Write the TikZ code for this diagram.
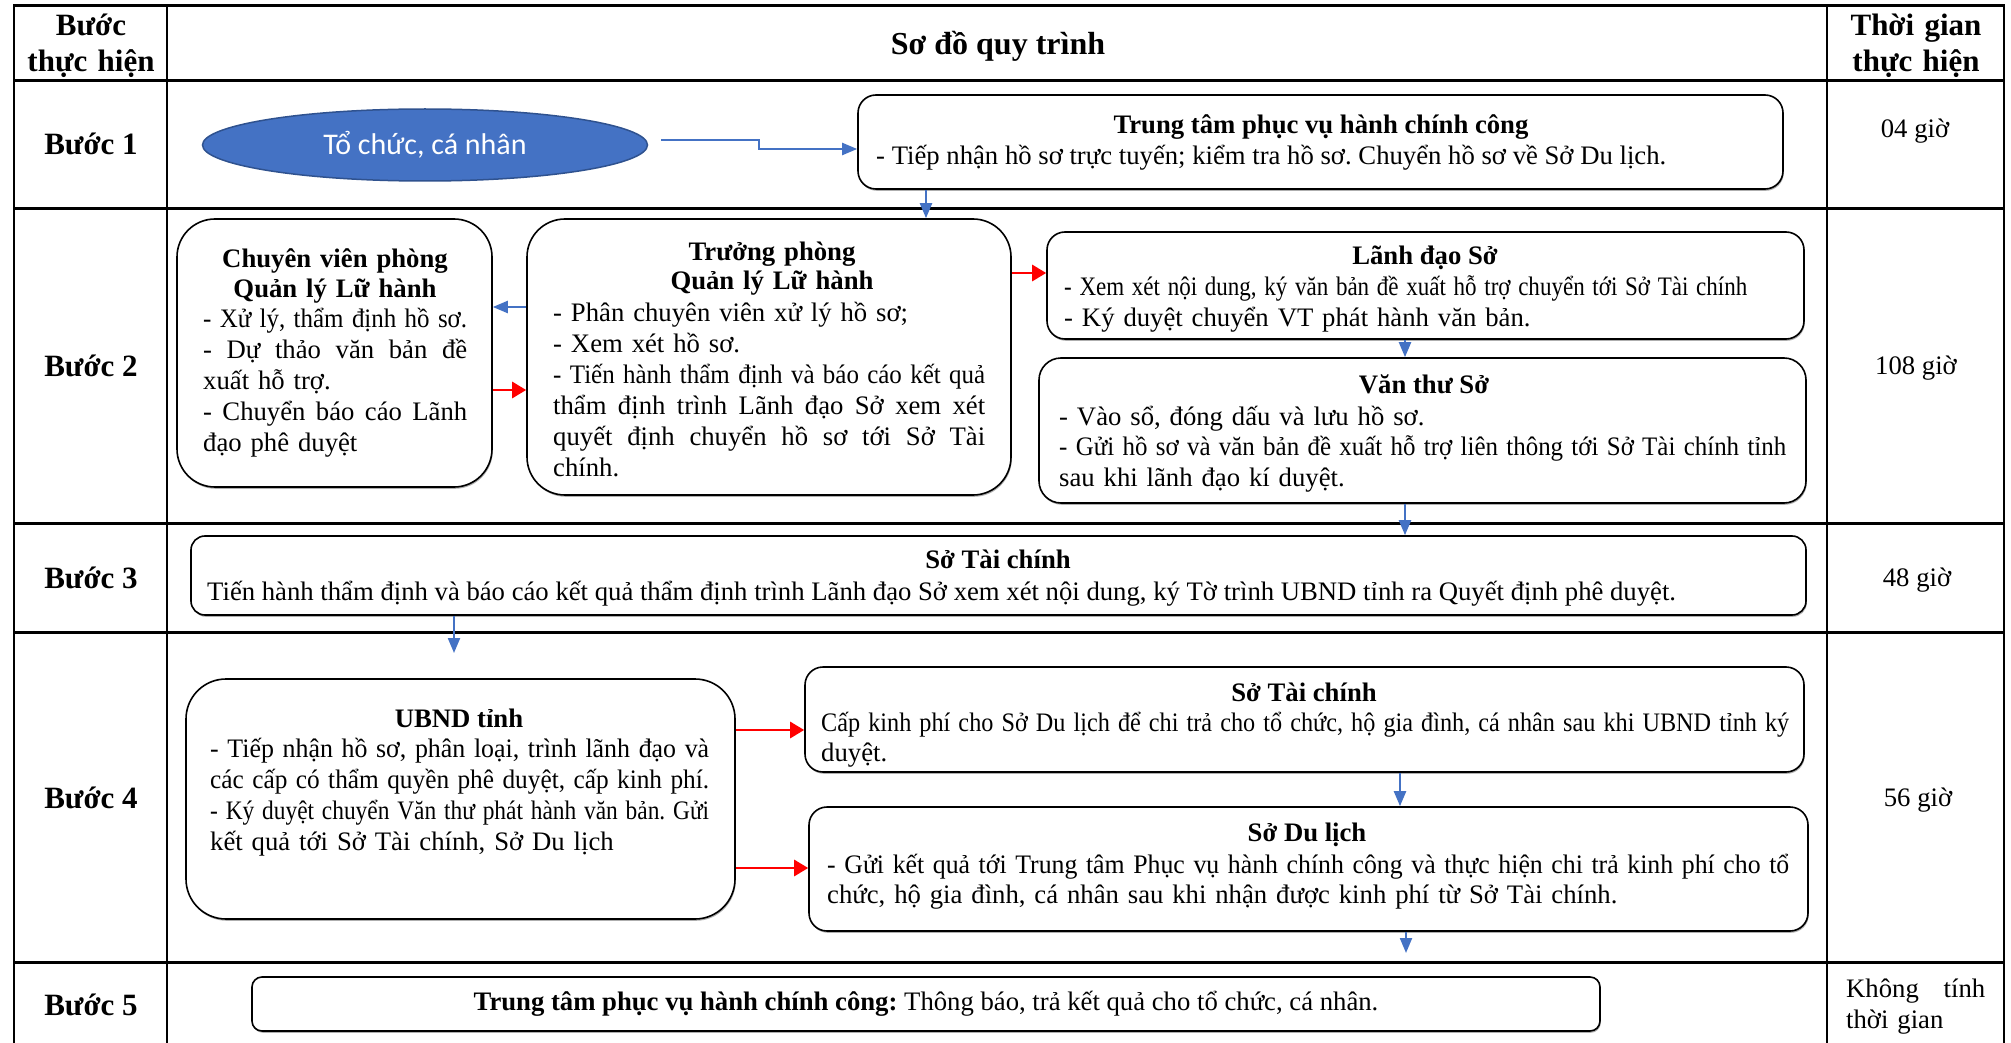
\documentclass[tikz,border=0pt]{standalone}
\usepackage{fontspec}
\setmainfont{Liberation Serif}
\newfontfamily\calibri{Carlito}
\usetikzlibrary{arrows.meta,shadows,shapes.geometric}
\definecolor{myblue}{HTML}{4472C4}
\definecolor{ellborder}{HTML}{2F528F}
\definecolor{myred}{HTML}{FF0000}
\frenchspacing
\newcommand{\bodyfont}{\fontsize{26.7}{31}\selectfont}
\newcommand{\headfont}{\fontsize{31}{36}\selectfont\bfseries}
\newsavebox\jlbox
\newcommand{\jl}[1]{\sbox\jlbox{#1}%
  \ifdim\wd\jlbox>\linewidth
    \resizebox{\linewidth}{\height}{\usebox\jlbox}%
  \else
    \makebox[\linewidth][s]{\spaceskip=0.25em plus 8em minus 0.05em\relax #1}%
  \fi\par}
\newcommand{\nl}[1]{\mbox{#1}\par}
\newcommand{\sq}[2]{\resizebox{#1}{\height}{#2}\par}
\begin{document}
\begin{tikzpicture}[x=1pt,y=-1pt,
  hline/.style={line width=3pt},
  vline/.style={line width=1.8pt},
  pbox/.style={draw, line width=1.6pt, fill=white, inner sep=0pt,
    drop shadow={shadow xshift=0.8pt, shadow yshift=-1.8pt, opacity=0.45, fill=black!70}},
  txt/.style={inner sep=0pt, font=\bodyfont},
  ttl/.style={inner sep=0pt, font=\bodyfont\bfseries, anchor=base},
  lbl/.style={inner sep=0pt, font=\headfont, anchor=base},
  barrow/.style={draw=myblue, line width=2.2pt, -{Triangle[length=15pt,width=12pt]}},
  rarrow/.style={draw=myred, line width=2.8pt, -{Triangle[length=14pt,width=16pt]}}
]
\useasboundingbox (0,0) rectangle (2011,1043);

% table grid
\foreach \yy in {6,81,209,523,632,962} \draw[hline] (13,\yy) -- (2005,\yy);
\foreach \xx in {14,167,1827,2004} \draw[vline] (\xx,6) -- (\xx,1043);

% header
\node[lbl, text width=150pt, align=center] (h1) at (91,36) {Bước\\[-0.5pt]thực hiện};
\node[lbl, font=\fontsize{32}{36}\selectfont\bfseries] (h2) at (998,55) {Sơ đồ quy trình};
\node[lbl, text width=170pt, align=center] (h3) at (1916,36) {Thời gian\\[-0.5pt]thực hiện};

% step labels
\node[lbl] (s1) at (91,155) {Bước 1};
\node[lbl] (s2) at (91,376) {Bước 2};
\node[lbl] (s3) at (91,588) {Bước 3};
\node[lbl] (s4) at (91,808) {Bước 4};
\node[lbl] (s5) at (91,1015) {Bước 5};

% times
\node[txt, anchor=base] (t1) at (1915,138) {04 giờ};
\node[txt, anchor=base] (t2) at (1916,374) {108 giờ};
\node[txt, anchor=base] (t3) at (1917,586) {48 giờ};
\node[txt, anchor=base] (t4) at (1918,806) {56 giờ};
\node[txt, anchor=base west, text width=139pt] (t5) at (1846,997) {\jl{Không tính}\nl{thời gian}};

% ---- Step 1
\node[ellipse, draw=ellborder, line width=1.5pt, fill=myblue, minimum width=445pt, minimum height=72pt,
  text=white, font=\calibri\fontsize{30}{34}\selectfont] (ell) at (425,145) {Tổ chức, cá nhân};
\node[pbox, rounded corners=18pt, minimum width=925pt, minimum height=94pt] (T1) at (1320.5,142) {};
\node[ttl] (T1t) at (1321,134) {Trung tâm phục vụ hành chính công};
\node[txt, anchor=base west] (T1b) at (876,165) {- Tiếp nhận hồ sơ trực tuyến; kiểm tra hồ sơ. Chuyển hồ sơ về Sở Du lịch.};

% ---- Step 2
\node[pbox, rounded corners=38pt, minimum width=315pt, minimum height=268pt] (A) at (334.5,353) {};
\node[ttl, text width=300pt, align=center] (At) at (335,267) {Chuyên viên phòng\\[-0pt]Quản lý Lữ hành};
\node[txt, anchor=base west, text width=264pt] (Ab) at (203,327)
  {\jl{- Xử lý, thẩm định hồ sơ.}\jl{- Dự thảo văn bản đề}\nl{xuất hỗ trợ.}\jl{- Chuyển báo cáo Lãnh}\nl{đạo phê duyệt}};

\node[pbox, rounded corners=38pt, minimum width=484pt, minimum height=276pt] (B) at (769,357) {};
\node[ttl, text width=400pt, align=center] (Bt) at (772,261) {Trưởng phòng\\[-2pt]Quản lý Lữ hành};
\node[txt, anchor=base west, text width=432pt] (Bb) at (553,321)
  {\nl{- Phân chuyên viên xử lý hồ sơ;}\nl{- Xem xét hồ sơ.}\jl{- Tiến hành thẩm định và báo cáo kết quả}\jl{thẩm định trình Lãnh đạo Sở xem xét}\jl{quyết định chuyển hồ sơ tới Sở Tài}\nl{chính.}};

\node[pbox, rounded corners=18pt, minimum width=757pt, minimum height=107pt] (C) at (1425.5,285.5) {};
\node[ttl] (Ct) at (1425,265) {Lãnh đạo Sở};
\node[txt, anchor=base west, text width=720pt] (Cb) at (1064,295)
  {\sq{683pt}{- Xem xét nội dung, ký văn bản đề xuất hỗ trợ chuyển tới Sở Tài chính}\nl{- Ký duyệt chuyển VT phát hành văn bản.}};

\node[pbox, rounded corners=22pt, minimum width=767pt, minimum height=145pt] (D) at (1422.5,430.5) {};
\node[ttl] (Dt) at (1424,393) {Văn thư Sở};
\node[txt, anchor=base west, text width=727pt, font=\fontsize{26.7}{30.5}\selectfont] (Db) at (1059,425)
  {\nl{- Vào sổ, đóng dấu và lưu hồ sơ.}\jl{- Gửi hồ sơ và văn bản đề xuất hỗ trợ liên thông tới Sở Tài chính tỉnh}\nl{sau khi lãnh đạo kí duyệt.}};

% ---- Step 3
\node[pbox, rounded corners=14pt, minimum width=1615pt, minimum height=79pt] (E) at (998.5,575.5) {};
\node[ttl] (Et) at (998,568) {Sở Tài chính};
\node[txt, anchor=base west] (Eb) at (207,600) {Tiến hành thẩm định và báo cáo kết quả thẩm định trình Lãnh đạo Sở xem xét nội dung, ký Tờ trình UBND tỉnh ra Quyết định phê duyệt.};

% ---- Step 4
\node[pbox, rounded corners=40pt, minimum width=549pt, minimum height=240pt] (F) at (460.5,799) {};
\node[ttl] (Ft) at (459,727) {UBND tỉnh};
\node[txt, anchor=base west, text width=499pt] (Fb) at (210,757)
  {\jl{- Tiếp nhận hồ sơ, phân loại, trình lãnh đạo và}\jl{các cấp có thẩm quyền phê duyệt, cấp kinh phí.}\jl{- Ký duyệt chuyển Văn thư phát hành văn bản. Gửi}\nl{kết quả tới Sở Tài chính, Sở Du lịch}};

\node[pbox, rounded corners=18pt, minimum width=999pt, minimum height=105pt] (G) at (1304.5,719.5) {};
\node[ttl] (Gt) at (1304,701) {Sở Tài chính};
\node[txt, anchor=base west, text width=968pt, font=\fontsize{26.7}{30}\selectfont] (Gb) at (821,731)
  {\jl{Cấp kinh phí cho Sở Du lịch để chi trả cho tổ chức, hộ gia đình, cá nhân sau khi UBND tỉnh ký}\nl{duyệt.}};

\node[pbox, rounded corners=18pt, minimum width=999pt, minimum height=124pt] (H) at (1308.5,869) {};
\node[ttl] (Ht) at (1307,841) {Sở Du lịch};
\node[txt, anchor=base west, text width=962pt, font=\fontsize{26.7}{30}\selectfont] (Hb) at (827,873)
  {\jl{- Gửi kết quả tới Trung tâm Phục vụ hành chính công và thực hiện chi trả kinh phí cho tổ}\nl{chức, hộ gia đình, cá nhân sau khi nhận được kinh phí từ Sở Tài chính.}};

% ---- Step 5
\node[pbox, rounded corners=10pt, minimum width=1348pt, minimum height=54pt] (I) at (926,1004) {};
\node[txt, anchor=base] (It) at (926,1010) {\textbf{Trung tâm phục vụ hành chính công:} Thông báo, trả kết quả cho tổ chức, cá nhân.};

% ---- connectors
\coordinate (e1) at (759,149);
\draw[barrow] ([shift={(13,-5)}]ell.east) -| (e1) -- (e1 -| T1.west);
\coordinate (x926) at (926,0);
\draw[barrow] (T1.south -| x926) -- (B.north -| x926);
\coordinate (y307) at (0,307);
\draw[barrow] (B.west |- y307) -- (A.east |- y307);
\coordinate (y390) at (0,390);
\draw[rarrow] (A.east |- y390) -- (B.west |- y390);
\coordinate (y273) at (0,273);
\draw[rarrow] (B.east |- y273) -- (C.west |- y273);
\coordinate (x1405) at (1405,0);
\draw[barrow] (C.south -| x1405) -- (D.north -| x1405);
\draw[barrow] (D.south -| x1405) -- (E.north -| x1405);
\coordinate (f1) at (454,653);
\draw[barrow] (E.south -| f1) -- (f1);
\coordinate (y730) at (0,730);
\draw[rarrow] (F.east |- y730) -- (G.west |- y730);
\coordinate (y868) at (0,868);
\draw[rarrow] (F.east |- y868) -- (H.west |- y868);
\coordinate (x1400) at (1400,0);
\draw[barrow] (G.south -| x1400) -- (H.north -| x1400);
\coordinate (f2) at (1406,953);
\draw[barrow] (H.south -| f2) -- (f2);
\end{tikzpicture}
\end{document}
